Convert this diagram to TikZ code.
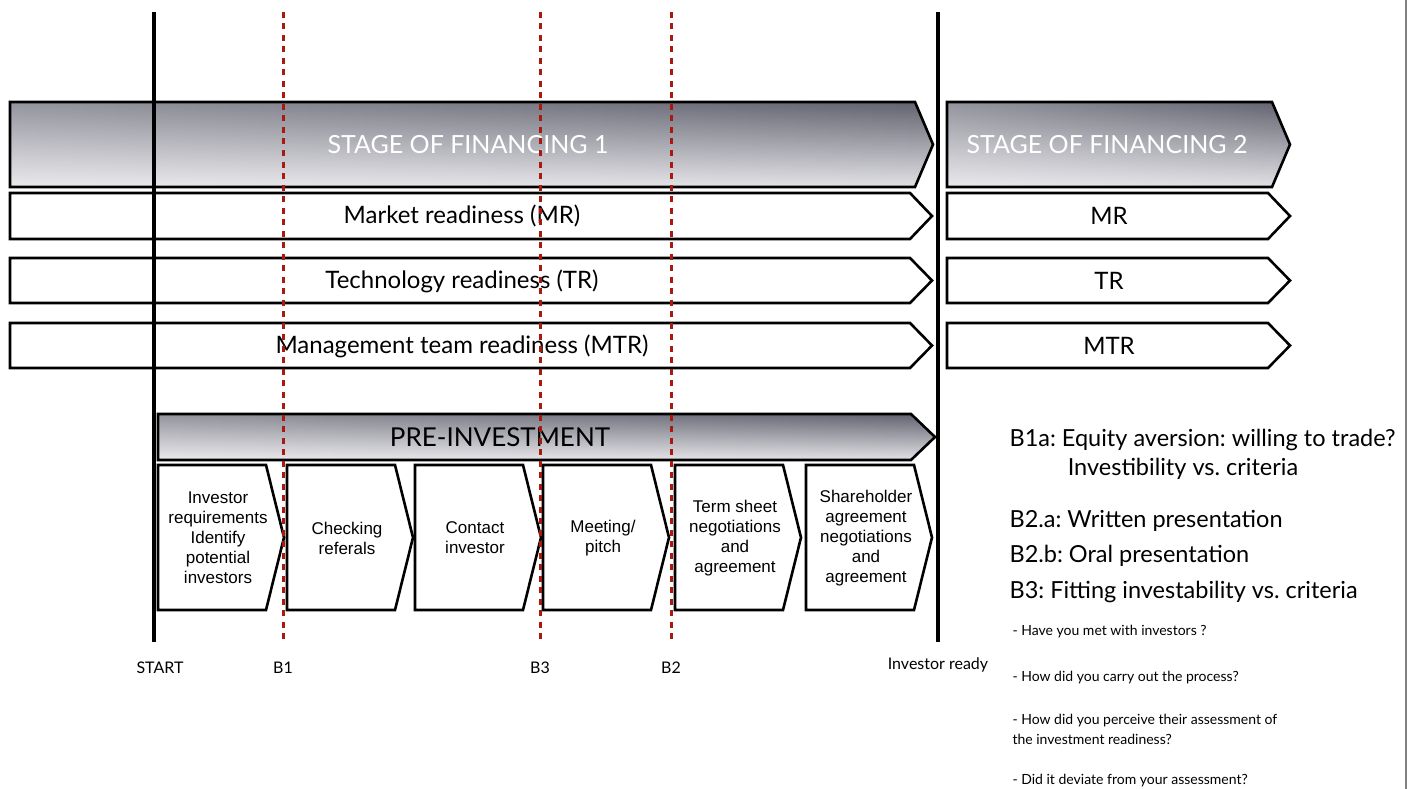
\documentclass[tikz,border=0pt]{standalone}
\usepackage{fontspec}
\setmainfont{Lato}
\newfontfamily\arialfont{Liberation Sans}
\usetikzlibrary{calc,fadings}
\definecolor{stagetop}{RGB}{98,98,112}
\definecolor{stagebot}{RGB}{226,226,230}
\definecolor{barrierred}{RGB}{168,26,16}
\definecolor{framegray}{RGB}{128,128,128}
\frenchspacing
% pentagon arrow: [style](left,top)(body end,bottom)(tip)
\def\pentarrow[#1](#2,#3)(#4,#5)(#6){\draw[#1] (#2,#3) -- (#4,#3) -- (#6,{(#3+#5)/2}) -- (#4,#5) -- (#2,#5) -- cycle;}
% shaded stage arrow: shading, sheen, then outline
\def\stagearrow(#1,#2)(#3,#4)(#5){\pentarrow[shaded](#1,#2)(#3,#4)(#5)\pentarrow[sheen](#1,#2)(#3,#4)(#5)\pentarrow[outline](#1,#2)(#3,#4)(#5)}

\begin{document}
\begin{tikzpicture}[x=1pt,y=-1pt,
		outline/.style={line width=2.6pt},
		box/.style={outline, fill=white},
		shaded/.style={draw=none, top color=stagetop, bottom color=stagebot},
		sheen/.style={draw=none, fill=white, fill opacity=0.32, path fading=east},
		stagelabel/.style={text=white, font=\fontsize{25}{28}\selectfont},
		rowlabel/.style={font=\fontsize{24}{28}\selectfont},
		steplabel/.style={font=\arialfont\fontsize{17}{20}\selectfont, align=center},
		barrier/.style={barrierred, line width=3pt, dash pattern=on 6pt off 5.5pt},
		milestone/.style={line width=3.5pt},
		ticklabel/.style={font=\fontsize{16}{18}\selectfont},
		notelabel/.style={font=\fontsize{23.5}{28}\selectfont, anchor=west},
		question/.style={font=\fontsize{14}{20}\selectfont, anchor=west, align=left}]
		%%%%% START %%%%%
		\useasboundingbox (0,0) rectangle (1416,789);
		
		% stages of financing
		\stagearrow(10,102)(915,187)(933);
		\stagearrow(947,102)(1272,187)(1290);
		\node[stagelabel] (stage1) at (468,145) {STAGE OF FINANCING 1};
		\node[stagelabel] (stage2) at (1107,145) {STAGE OF FINANCING 2};
		
		% readiness rows
		\pentarrow[box](10,193)(910,239)(932);
		\pentarrow[box](947,193)(1268,239)(1290);
		\pentarrow[box](10,258)(910,303)(932);
		\pentarrow[box](947,258)(1268,303)(1290);
		\pentarrow[box](10,323)(910,368)(932);
		\pentarrow[box](947,323)(1268,368)(1290);
		\node[rowlabel] (mr1) at (462,216) {Market readiness (MR)};
		\node[rowlabel] (tr1) at (462,281) {Technology readiness (TR)};
		\node[rowlabel] (mtr1) at (462,346) {Management team readiness (MTR)};
		\node[rowlabel] (mr2) at (1109,216) {MR};
		\node[rowlabel] (tr2) at (1109,281) {TR};
		\node[rowlabel] (mtr2) at (1109,346) {MTR};
		
		% pre-investment steps
		\stagearrow(158,414)(911,460)(935);
		\node[rowlabel, font=\fontsize{26}{28}\selectfont] (preinv) at (500,437) {PRE-INVESTMENT};
		\foreach \l/\txt [count=\i] in {158/{Investor\\requirements\\Identify\\potential\\investors},
				287/{Checking\\referals}, 415/{Contact\\investor}, 543/{Meeting/\\pitch},
				675/{Term sheet\\negotiations\\and\\agreement},
				806/{Shareholder\\agreement\\negotiations\\and\\agreement}}{
			\pentarrow[box](\l,465)(\l+108,610)(\l+126);
			\node[steplabel] (step\i) at (\l+60,538) {\txt};
		}
		
		% milestones and barriers
		\draw[milestone] (154,12) -- (154,642) coordinate (startend);
		\draw[milestone] (938,12) -- (938,642) coordinate (readyend);
		\draw[barrier] (283,12) -- (283,641) coordinate (b1end);
		\draw[barrier] (540,12) -- (540,641) coordinate (b3end);
		\draw[barrier] (671,12) -- (671,641) coordinate (b2end);
		\node[ticklabel] (start) at ($(startend)+(6,26)$) {START};
		\node[ticklabel] (b1) at ($(b1end)+(0,27)$) {B1};
		\node[ticklabel] (b3) at ($(b3end)+(0,27)$) {B3};
		\node[ticklabel] (b2) at ($(b2end)+(0,27)$) {B2};
		\node[ticklabel] (ready) at ($(readyend)+(0,23)$) {Investor ready};
		
		% barrier notes
		\node[notelabel] (b1a) at (1006,440) {B1a: Equity aversion: willing to trade?};
		\node[font=\fontsize{23.5}{28}\selectfont] (b1b) at (1183,469) {Investibility vs. criteria};
		\node[notelabel] (b2a) at (1006,521) {B2.a: Written presentation};
		\node[notelabel] (b2b) at (1006,556) {B2.b: Oral presentation};
		\node[notelabel] (b3n) at (1006,592) {B3: Fitting investability vs. criteria};
		\node[question] (q1) at (1009,632) {- Have you met with investors ?};
		\node[question] (q2) at (1009,678) {- How did you carry out the process?};
		\node[question] (q3) at (1009,729) {- How did you perceive their assessment of\\the investment readiness?};
		\node[question] (q4) at (1009,781) {- Did it deviate from your assessment?};
		
		\draw[framegray, line width=2pt] (1406,0) -- (1406,789);
		%%%%% END %%%%%
\end{tikzpicture}
\end{document}
